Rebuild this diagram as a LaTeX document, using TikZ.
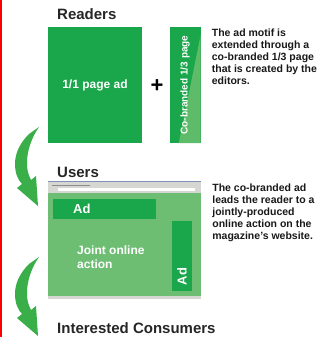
\documentclass[tikz,border=0pt]{standalone}
\usepackage{fontspec}
\setmainfont{Liberation Sans}
\usetikzlibrary{positioning}
\definecolor{pagegreen}{HTML}{1AA64A}
\definecolor{fadegreen}{HTML}{5DBB6A}
\definecolor{screengreen}{HTML}{6DBE73}
\definecolor{arrowgreen}{HTML}{3AAE48}
\definecolor{bargray}{HTML}{D6D6D2}
\definecolor{titleblue}{HTML}{8090B8}
\tikzstyle{heading} = [anchor=base west, inner sep=0pt, text=black!85, font=\bfseries\fontsize{15}{18}\selectfont]
\tikzstyle{note} = [anchor=north west, inner sep=0pt, align=left, text=black!90, font=\bfseries\fontsize{10.5}{12}\selectfont]
\tikzstyle{pagebox} = [rectangle, inner sep=0pt, fill=pagegreen, text=white, font=\bfseries\fontsize{12}{14}\selectfont]
\tikzstyle{adbox} = [rectangle, inner sep=0pt, fill=pagegreen, text=white, font=\bfseries\fontsize{13}{15}\selectfont]
\tikzset{turnarrow/.pic={
  \fill[arrowgreen] (6,0) -- (-4,7) .. controls (-12,15) and (-18,25) .. (-18,37)
    .. controls (-18,46) and (-15,53) .. (-11,57) -- (-16,61) -- (5,79) -- (3,49) -- (-2,53)
    .. controls (-5,47) and (-6,43) .. (-6,36) .. controls (-6,23) and (-1,10) .. (6,0) -- cycle;
}}

\begin{document}
\begin{tikzpicture}[x=1pt, y=-1pt]
	\useasboundingbox (0,0) rectangle (332,337);
	\fill[white] (0,0) rectangle (332,337);
	\draw[red, line width=1.5pt] (0.75,0) -- (0.75,337);
	%----------------------------------------------------%
	\node(readers) [heading] at (57,20) {Readers};
	\node(fullpage) [pagebox, minimum width=94pt, minimum height=116pt] at (95,85) {1/1 page ad};
	\node(plus) [inner sep=0pt, font=\bfseries\fontsize{22}{22}\selectfont] at (157,86) {+};
	\node(thirdpage) [pagebox, minimum width=31pt, minimum height=116pt] at (185,85) {};
	\fill[fadegreen] ([yshift=-8pt]thirdpage.north east) -- (thirdpage.south east) -- ([xshift=-22pt]thirdpage.south east) -- cycle;
	\node(thirdlabel) [rotate=90, inner sep=0pt, text=white, font=\bfseries\fontsize{10}{12}\selectfont] at (thirdpage.center) {Co-branded 1/3 page};
	\node(motifnote) [note, right=11pt of thirdpage.north east, anchor=north west, yshift=-2pt] {The ad motif is\\extended through a\\co-branded 1/3 page\\that is created by the\\editors.};
	\pic at (33,127) {turnarrow};
	%----------------------------------------------------%
	\node(users) [heading] at (57,177) {Users};
	\node(browser) [rectangle, inner sep=0pt, fill=screengreen, minimum width=153pt, minimum height=118pt] at (124.5,240) {};
	\fill[bargray] (browser.north west) rectangle ++(153,12);
	\fill[titleblue] (browser.north west) rectangle ++(153,1.5);
	\fill[black!45] (52,184.5) rectangle (90,185.5);
	\fill[white] (58,187.5) rectangle (195,191);
	\fill[bargray] (browser.south west) rectangle ++(153,-3);
	\node(topad) [adbox, anchor=north west, minimum width=103pt, minimum height=20pt, text width=63pt, align=left] at (53,199) {Ad};
	\node(sidead) [adbox, minimum width=20pt, minimum height=70pt] at (182,256) {};
	\node(sideadlabel) [rotate=90, anchor=west, inner sep=0pt, text=white, font=\bfseries\fontsize{13}{15}\selectfont] at ([yshift=6pt]sidead.south) {Ad};
	\node(joint) [anchor=north west, inner sep=0pt, align=left, text=white, font=\bfseries\fontsize{12}{14}\selectfont] at (77,246) {Joint online\\action};
	\node(actionnote) [note, right=11pt of browser.north east, anchor=north west, yshift=-3pt] {The co-branded ad\\leads the reader to a\\jointly-produced\\online action on the\\magazine's website.};
	\pic at (33,257) {turnarrow};
	%----------------------------------------------------%
	\node(consumers) [heading] at (57,333) {Interested Consumers};
\end{tikzpicture}
\end{document}
